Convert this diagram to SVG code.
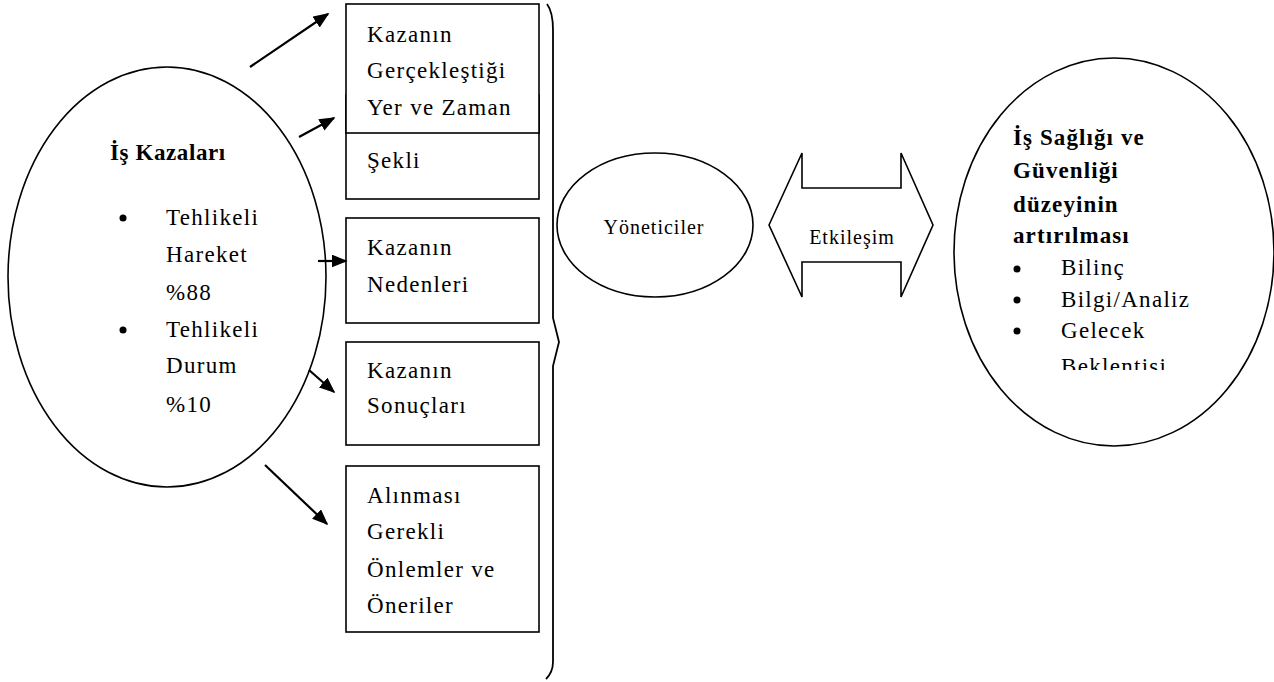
<svg xmlns="http://www.w3.org/2000/svg" width="1274" height="682" viewBox="0 0 1274 682">
<style>
  .t { font-family: "Liberation Serif", "Times New Roman", serif; font-size: 23px; letter-spacing: 1.3px; fill: #000; }
  .b { font-weight: bold; letter-spacing: 1.1px; }
  .s { font-size: 20px; letter-spacing: 1px; }
  .shape { fill: #fff; stroke: #000; stroke-width: 1.6; }
  .conn { stroke: #000; stroke-width: 2.2; fill: none; marker-end: url(#ah); }
</style>
<defs>
  <marker id="ah" viewBox="0 0 10 10" refX="9" refY="5" markerWidth="16" markerHeight="13" markerUnits="userSpaceOnUse" orient="auto" preserveAspectRatio="none">
    <path d="M0,0 L10,5 L0,10 Z" fill="#000"/>
  </marker>
  <clipPath id="rclip"><rect x="940" y="40" width="334" height="330"/></clipPath>
</defs>
<rect width="1274" height="682" fill="#fff"/>

<g id="left-ellipse">
  <ellipse class="shape" cx="167" cy="277" rx="159" ry="210"/>
  <text class="t b" x="110" y="160" style="letter-spacing:0.6px">İş Kazaları</text>
  <circle cx="123" cy="218" r="3.5"/>
  <text class="t" x="166" y="225">Tehlikeli</text>
  <text class="t" x="166" y="262">Hareket</text>
  <text class="t" x="166" y="300">%88</text>
  <circle cx="123" cy="330" r="3.5"/>
  <text class="t" x="166" y="337">Tehlikeli</text>
  <text class="t" x="166" y="373">Durum</text>
  <text class="t" x="166" y="412">%10</text>
</g>

<g id="box2">
  <rect class="shape" x="346" y="95" width="193" height="104"/>
  <text class="t" x="367" y="168">Şekli</text>
</g>
<g id="box1">
  <rect class="shape" x="346" y="4" width="193" height="129"/>
  <text class="t" x="367" y="42">Kazanın</text>
  <text class="t" x="367" y="78">Gerçekleştiği</text>
  <text class="t" x="367" y="115">Yer ve Zaman</text>
</g>
<g id="box3">
  <rect class="shape" x="346" y="218" width="193" height="105"/>
  <text class="t" x="367" y="255">Kazanın</text>
  <text class="t" x="367" y="292">Nedenleri</text>
</g>
<g id="box4">
  <rect class="shape" x="346" y="342" width="193" height="103"/>
  <text class="t" x="367" y="378">Kazanın</text>
  <text class="t" x="367" y="413">Sonuçları</text>
</g>
<g id="box5">
  <rect class="shape" x="346" y="466" width="193" height="166"/>
  <text class="t" x="367" y="503">Alınması</text>
  <text class="t" x="367" y="539">Gerekli</text>
  <text class="t" x="367" y="577">Önlemler ve</text>
  <text class="t" x="367" y="613">Öneriler</text>
</g>

<g id="brace">
  <path d="M547,4 Q553,12 553,30 L553,318 L559,342 L553,366 L553,662 Q553,672 546,679" fill="none" stroke="#000" stroke-width="1.8"/>
</g>

<g id="yoneticiler">
  <ellipse class="shape" cx="655" cy="225" rx="98" ry="72"/>
  <text class="t s" x="654" y="234" text-anchor="middle">Yöneticiler</text>
</g>

<g id="etkilesim">
  <path class="shape" d="M769,225 L802,153 L802,188 L901,188 L901,153 L933,225 L901,297 L901,262 L802,262 L802,297 Z"/>
  <text class="t s" x="852" y="244" text-anchor="middle">Etkileşim</text>
</g>

<g id="right-ellipse">
  <ellipse class="shape" cx="1114" cy="252" rx="160" ry="194"/>
  <text class="t b" x="1013" y="145">İş Sağlığı ve</text>
  <text class="t b" x="1013" y="178">Güvenliği</text>
  <text class="t b" x="1013" y="212">düzeyinin</text>
  <text class="t b" x="1013" y="243">artırılması</text>
  <circle cx="1017" cy="269" r="3.5"/>
  <text class="t" x="1061" y="275">Bilinç</text>
  <circle cx="1017" cy="300" r="3.5"/>
  <text class="t" x="1061" y="307">Bilgi/Analiz</text>
  <circle cx="1017" cy="331" r="3.5"/>
  <text class="t" x="1061" y="338">Gelecek</text>
  <text class="t" x="1061" y="374" clip-path="url(#rclip)">Beklentisi</text>
</g>

<g id="connectors">
  <line class="conn" x1="250" y1="67" x2="328" y2="14"/>
  <line class="conn" x1="299" y1="137" x2="334" y2="118"/>
  <line class="conn" x1="318" y1="261" x2="346" y2="261"/>
  <line class="conn" x1="309" y1="370" x2="334" y2="392"/>
  <line class="conn" x1="265" y1="465" x2="327" y2="524"/>
</g>
</svg>
